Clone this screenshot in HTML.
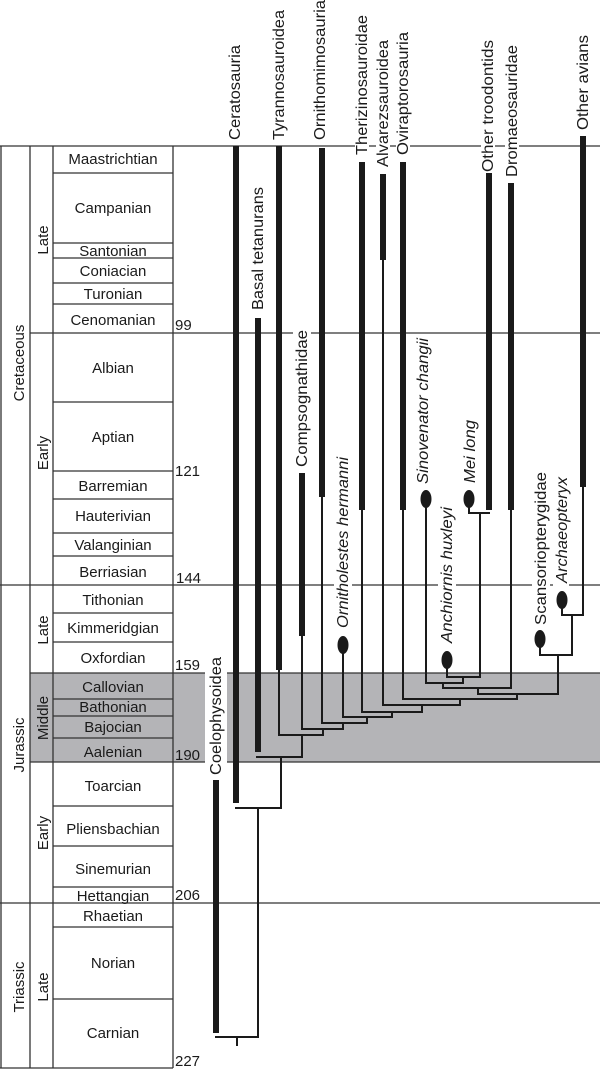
<!DOCTYPE html>
<html><head><meta charset="utf-8"><style>
html,body{margin:0;padding:0;background:#fff;}
svg{display:block;}
text{font-family:"Liberation Sans",Arial,sans-serif;fill:#1a1a1a;}
</style></head><body>
<svg width="600" height="1070" viewBox="0 0 600 1070" xmlns="http://www.w3.org/2000/svg">
<rect x="30" y="673" width="570" height="89" fill="#b4b4b7"/>
<g stroke="#333" stroke-width="1.3" fill="none">
<line x1="0" y1="146" x2="600" y2="146"/>
<line x1="30" y1="333" x2="600" y2="333"/>
<line x1="0" y1="585" x2="600" y2="585"/>
<line x1="30" y1="673" x2="600" y2="673"/>
<line x1="30" y1="762" x2="600" y2="762"/>
<line x1="0" y1="903" x2="600" y2="903"/>
<line x1="0" y1="1068" x2="173" y2="1068"/>
<line x1="1" y1="146" x2="1" y2="1068"/>
<line x1="30" y1="146" x2="30" y2="1068"/>
<line x1="53" y1="146" x2="53" y2="1068"/>
<line x1="173" y1="146" x2="173" y2="1068"/>
<path d="M53 173H173M53 243H173M53 258H173M53 283H173M53 304H173M53 402H173M53 471H173M53 499H173M53 533H173M53 556H173M53 613H173M53 642H173M53 699H173M53 716H173M53 738H173M53 806H173M53 846H173M53 887H173M53 927H173M53 999H173"/>
</g>
<g fill="#fff">
<rect x="205" y="660" width="22" height="115"/>
<rect x="355" y="140" width="14" height="12"/>
<rect x="376" y="140" width="14" height="12"/>
<rect x="396" y="140" width="14" height="12"/>
<rect x="481" y="140" width="14" height="12"/>
<rect x="505" y="140" width="14" height="12"/>
<rect x="293" y="327" width="18" height="12"/>
<rect x="334" y="579" width="18" height="12"/>
<rect x="438" y="579" width="18" height="12"/>
<rect x="532" y="579" width="18" height="12"/>
<rect x="553" y="579" width="16" height="12"/>
</g>
<g stroke="#1a1a1a" stroke-width="2" fill="none" stroke-linecap="square">
<path d="M216 1037H258M237 1037V1045M258 1037V808M236 808H279M281 808V757"/>
<path d="M257 757H302M279 670V735H323M302 735V757M302 636V729H343M323 729V735"/>
<path d="M322 497V723H367M343 723V729M343 650V717H392M367 717V723"/>
<path d="M362 510V712H422M392 712V717M383 260V705H460M422 705V712"/>
<path d="M403 510V699H517M460 699V705M478 694H558M517 694V699"/>
<path d="M443 688H511V510M478 688V694M426 500V683H463M443 683V688"/>
<path d="M447 662V677H480M463 677V683M469 500V513H489M480 513V677"/>
<path d="M558 655V694M540 640V655H572M572 655V615M562 600V615H583V487"/>
</g>
<g fill="#1a1a1a">
<rect x="213" y="780" width="6" height="253"/>
<rect x="233" y="146" width="6" height="657"/>
<rect x="255" y="318" width="6" height="434"/>
<rect x="276" y="146" width="6" height="524"/>
<rect x="299" y="473" width="6" height="163"/>
<rect x="319" y="148" width="6" height="349"/>
<rect x="359" y="162" width="6" height="348"/>
<rect x="380" y="174" width="6" height="86"/>
<rect x="400" y="162" width="6" height="348"/>
<rect x="486" y="173" width="6" height="337"/>
<rect x="508" y="183" width="6" height="327"/>
<rect x="580" y="136" width="6" height="351"/>
<ellipse cx="343" cy="645" rx="5.5" ry="9"/>
<ellipse cx="426" cy="499" rx="5.5" ry="9"/>
<ellipse cx="469" cy="499" rx="5.5" ry="9"/>
<ellipse cx="447" cy="660" rx="5.5" ry="9"/>
<ellipse cx="540" cy="639" rx="5.5" ry="9"/>
<ellipse cx="562" cy="600" rx="5.5" ry="9"/>
</g>
<g font-size="15" text-anchor="middle">
<text x="113" y="164">Maastrichtian</text>
<text x="113" y="213">Campanian</text>
<text x="113" y="256">Santonian</text>
<text x="113" y="276">Coniacian</text>
<text x="113" y="299">Turonian</text>
<text x="113" y="325">Cenomanian</text>
<text x="113" y="373">Albian</text>
<text x="113" y="442">Aptian</text>
<text x="113" y="491">Barremian</text>
<text x="113" y="521">Hauterivian</text>
<text x="113" y="550">Valanginian</text>
<text x="113" y="577">Berriasian</text>
<text x="113" y="605">Tithonian</text>
<text x="113" y="633">Kimmeridgian</text>
<text x="113" y="663">Oxfordian</text>
<text x="113" y="692">Callovian</text>
<text x="113" y="712">Bathonian</text>
<text x="113" y="732">Bajocian</text>
<text x="113" y="757">Aalenian</text>
<text x="113" y="791">Toarcian</text>
<text x="113" y="834">Pliensbachian</text>
<text x="113" y="874">Sinemurian</text>
<text x="113" y="901">Hettangian</text>
<text x="113" y="921">Rhaetian</text>
<text x="113" y="968">Norian</text>
<text x="113" y="1038">Carnian</text>
</g>
<g font-size="15">
<text x="175" y="330">99</text>
<text x="175" y="476">121</text>
<text x="176" y="583">144</text>
<text x="175" y="670">159</text>
<text x="175" y="760">190</text>
<text x="175" y="900">206</text>
<text x="175" y="1066">227</text>
</g>
<g font-size="15" text-anchor="middle">
<text transform="translate(24,363) rotate(-90)">Cretaceous</text>
<text transform="translate(24,745) rotate(-90)">Jurassic</text>
<text transform="translate(24,987) rotate(-90)">Triassic</text>
<text transform="translate(48,240) rotate(-90)">Late</text>
<text transform="translate(48,453) rotate(-90)">Early</text>
<text transform="translate(48,630) rotate(-90)">Late</text>
<text transform="translate(48,718) rotate(-90)">Middle</text>
<text transform="translate(48,833) rotate(-90)">Early</text>
<text transform="translate(48,987) rotate(-90)">Late</text>
</g>
<g font-size="15.5">
<text transform="translate(240,140) rotate(-90)" textLength="95" lengthAdjust="spacingAndGlyphs">Ceratosauria</text>
<text transform="translate(284,140) rotate(-90)" textLength="130" lengthAdjust="spacingAndGlyphs">Tyrannosauroidea</text>
<text transform="translate(325,140) rotate(-90)" textLength="140" lengthAdjust="spacingAndGlyphs">Ornithomimosauria</text>
<text transform="translate(367,155) rotate(-90)" textLength="140" lengthAdjust="spacingAndGlyphs">Therizinosauroidae</text>
<text transform="translate(388,167) rotate(-90)" textLength="127" lengthAdjust="spacingAndGlyphs">Alvarezsauroidea</text>
<text transform="translate(408,155) rotate(-90)" textLength="123" lengthAdjust="spacingAndGlyphs">Oviraptorosauria</text>
<text transform="translate(493,172) rotate(-90)" textLength="132" lengthAdjust="spacingAndGlyphs">Other troodontids</text>
<text transform="translate(517,177) rotate(-90)" textLength="132" lengthAdjust="spacingAndGlyphs">Dromaeosauridae</text>
<text transform="translate(588,130) rotate(-90)" textLength="95" lengthAdjust="spacingAndGlyphs">Other avians</text>
<text transform="translate(263,310) rotate(-90)" textLength="123" lengthAdjust="spacingAndGlyphs">Basal tetanurans</text>
<text transform="translate(307,467) rotate(-90)" textLength="137" lengthAdjust="spacingAndGlyphs">Compsognathidae</text>
<text transform="translate(221,775) rotate(-90)" textLength="118" lengthAdjust="spacingAndGlyphs">Coelophysoidea</text>
<text transform="translate(546,625) rotate(-90)" textLength="153" lengthAdjust="spacingAndGlyphs">Scansoriopterygidae</text>
</g>
<g font-size="15.5" font-style="italic">
<text transform="translate(348,628) rotate(-90)" textLength="171" lengthAdjust="spacingAndGlyphs">Ornitholestes hermanni</text>
<text transform="translate(428,484) rotate(-90)" textLength="146" lengthAdjust="spacingAndGlyphs">Sinovenator changii</text>
<text transform="translate(475,483) rotate(-90)" textLength="63" lengthAdjust="spacingAndGlyphs">Mei long</text>
<text transform="translate(452,643) rotate(-90)" textLength="136" lengthAdjust="spacingAndGlyphs">Anchiornis huxleyi</text>
<text transform="translate(567,583) rotate(-90)" textLength="106" lengthAdjust="spacingAndGlyphs">Archaeopteryx</text>
</g>
</svg>
</body></html>
